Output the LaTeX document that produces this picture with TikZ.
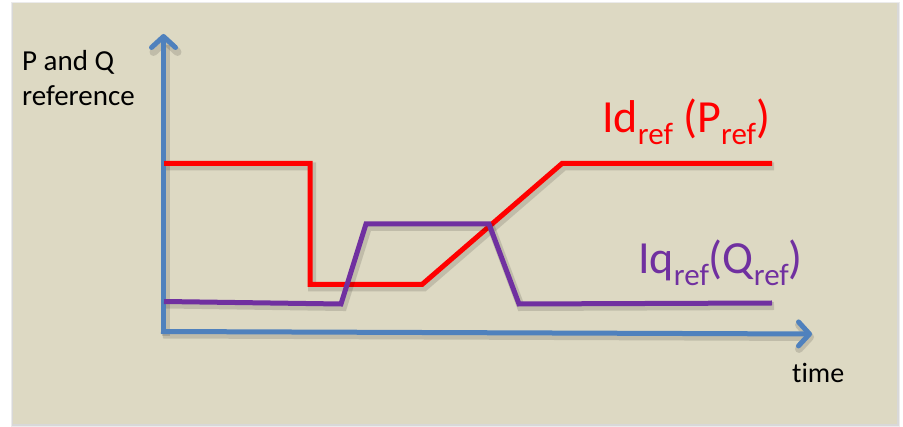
\documentclass[tikz,border=0pt]{standalone}
\usepackage{fontspec}
\setmainfont{Carlito}[Ligatures=NoCommon]
\usetikzlibrary{arrows.meta}
\definecolor{bgtan}{HTML}{DDD9C3}
\definecolor{axblue}{HTML}{4F81BD}
\definecolor{qpurple}{HTML}{7030A0}
\newcommand\subref[1]{\raisebox{-12pt}{\fontsize{31}{31}\selectfont #1}}
\tikzset{
  shadowed/.style={preaction={draw=black,opacity=0.13,line width=8pt,transform canvas={shift={(2pt,-3pt)}}}},
  axisline/.style={draw=axblue,line width=5pt,shadowed,-{Straight Barb[length=11pt,width=24pt,round]}},
  curve/.style={line width=5pt,shadowed,line join=miter},
  lbl/.style={inner sep=0pt,anchor=base west}
}
\begin{document}
\begin{tikzpicture}[x=1pt,y=-1pt]
\useasboundingbox (0,0) rectangle (903,427);
\fill[white] (0,0) rectangle (903,427);
\fill[black,opacity=0.08] (11,2) rectangle (900,427);
\fill[black,opacity=0.08] (12,3) rectangle (899,426);
\fill[bgtan] (13,3) rectangle (897,424);
% axes
\draw[axisline] (163.5,333) -- (163.5,34);
\draw[axisline] (161,331.5) -- (812,334);
% red Id_ref
\draw[curve,red] (164,163.5) -- (310,163.5) -- (310,284.5) -- (422,284.5) -- (562,163.5) -- (772,163.5);
% purple Iq_ref
\draw[curve,qpurple] (164,301.5) -- (341,304) -- (366,224) -- (489,224) -- (519,304) -- (772,303);
% labels
\node[lbl,align=left,font=\fontsize{29}{35}\selectfont] (ylab) at (22,106) {P and Q\\reference};
\node[lbl,font=\fontsize{28}{28}\selectfont] (xlab) at (792,383) {time};
\node[lbl,text=red,font=\fontsize{46}{46}\selectfont] (idlab) at (602,133) {Id\subref{ref} (P\subref{ref})};
\node[lbl,text=qpurple,font=\fontsize{46}{46}\selectfont] (iqlab) at (638,274) {Iq\subref{ref}(Q\subref{ref})};
\end{tikzpicture}
\end{document}
